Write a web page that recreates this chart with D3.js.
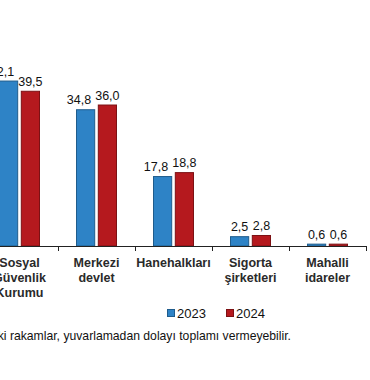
<!DOCTYPE html>
<html>
<head>
<meta charset="utf-8">
<script src="https://cdn.jsdelivr.net/npm/d3@7"></script>
<style>
  body { margin: 0; background: white; overflow: hidden; }
  text { font-family: "Liberation Sans", Arial, sans-serif; fill: #111; }
</style>
</head>
<body>
<div id="chart"></div>
<script>
var categories = [["Sosyal", "Güvenlik", "Kurumu"], ["Merkezi", "devlet"], ["Hanehalkları"], ["Sigorta", "şirketleri"], ["Mahalli", "idareler"]];
var years = ["2023", "2024"];
var values2023 = [42.1, 34.8, 17.8, 2.5, 0.6];
var values2024 = [39.5, 36.0, 18.8, 2.8, 0.6];
var colors = ["#2e83c6", "#b5191e"];
var strokes = ["#1f5c8c", "#7c1114"];
var footnote = "Tablodaki rakamlar, yuvarlamadan dolayı toplamı vermeyebilir.";

var svg = d3.select("#chart")
    .append("svg")
    .attr("width", 370)
    .attr("height", 380);

var baseY = 246;

var x0 = d3.scaleBand()
    .domain(d3.range(categories.length))
    .range([-19, 366]);

var groupW = 41;
var x1 = d3.scaleBand()
    .domain(years)
    .range([0, groupW])
    .paddingInner(0.12);

var y = d3.scaleLinear()
    .domain([0, 45])
    .range([baseY, baseY - 45 * 3.93]);

var fmt = function(v) { return d3.format(".1f")(v).replace(".", ","); };

var groups = svg.append("g")
    .selectAll("g")
    .data(categories.map(function(c, i) { return { i: i, vals: [values2023[i], values2024[i]] }; }))
    .join("g")
    .attr("transform", function(d) { return "translate(" + (x0(d.i) + (x0.bandwidth() - groupW) / 2) + ",0)"; });

groups.selectAll("rect")
    .data(function(d) { return d.vals.map(function(v, k) { return { k: k, v: v }; }); })
    .join("rect")
    .attr("x", function(d) { return x1(years[d.k]) + 0.5; })
    .attr("y", function(d) { return y(d.v) + 0.5; })
    .attr("width", x1.bandwidth() - 1)
    .attr("height", function(d) { return baseY - y(d.v) - 0.5; })
    .style("fill", function(d) { return colors[d.k]; })
    .style("stroke", function(d) { return strokes[d.k]; })
    .style("stroke-width", 1);

// value labels, nudging the 2023 label left when it would touch the 2024 one
groups.each(function(d) {
    var g = d3.select(this);
    var labels = d.vals.map(function(v, k) {
        return g.append("text")
            .attr("x", x1(years[k]) + x1.bandwidth() / 2)
            .attr("y", y(v) - 5)
            .attr("text-anchor", "middle")
            .attr("font-size", "12.5px")
            .text(fmt(v));
    });
    var b0 = labels[0].node().getBBox();
    var b1 = labels[1].node().getBBox();
    var shift = Math.max(0, b0.x + b0.width + 4 - b1.x);
    labels[0].attr("x", +labels[0].attr("x") - shift);
});

// axis
var axis = svg.append("g");
axis.append("line")
    .attr("x1", 0).attr("x2", 366)
    .attr("y1", baseY + 0.5).attr("y2", baseY + 0.5)
    .style("stroke", "#222");
axis.selectAll(".tick")
    .data(d3.range(categories.length + 1))
    .join("line")
    .attr("x1", function(i) { return Math.round(-19 + i * x0.step()) + 0.5; })
    .attr("x2", function(i) { return Math.round(-19 + i * x0.step()) + 0.5; })
    .attr("y1", baseY)
    .attr("y2", baseY + 5)
    .style("stroke", "#222");

// category labels
svg.append("g")
    .selectAll("text")
    .data(categories)
    .join("text")
    .attr("x", function(d, i) { return x0(i) + x0.bandwidth() / 2; })
    .attr("y", 267)
    .attr("text-anchor", "middle")
    .attr("font-size", "12.5px")
    .attr("font-weight", "bold")
    .style("fill", "#2a2a2a")
    .each(function(d) {
        var t = d3.select(this);
        d.forEach(function(line, j) {
            t.append("tspan")
                .attr("x", t.attr("x"))
                .attr("dy", j == 0 ? 0 : 14.8)
                .text(line);
        });
    });

// legend
var legend = svg.append("g");
years.forEach(function(yr, k) {
    var lx = 167 + k * 59;
    legend.append("rect")
        .attr("x", lx + 0.5).attr("y", 309.5)
        .attr("width", 7).attr("height", 7)
        .style("fill", colors[k])
        .style("stroke", strokes[k]);
    legend.append("text")
        .attr("x", lx + 10)
        .attr("y", 318)
        .attr("font-size", "13px")
        .text(yr);
});

// footnote (cropped on the left like the original)
svg.append("text")
    .attr("x", 291)
    .attr("y", 340)
    .attr("text-anchor", "end")
    .attr("font-size", "12.2px")
    .text(footnote);
</script>
</body>
</html>
